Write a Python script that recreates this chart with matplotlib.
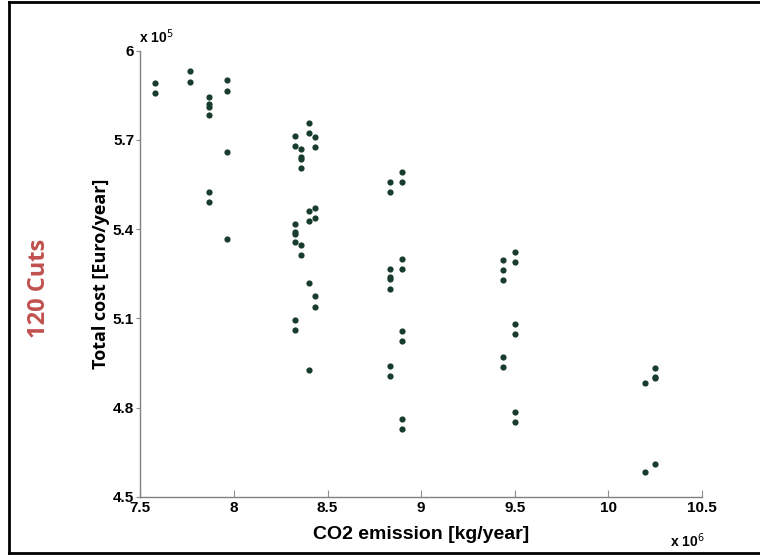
import matplotlib.pyplot as plt
from matplotlib.lines import Line2D
from matplotlib.ticker import FuncFormatter

# CO2 emission (x 10^6 kg/year) and total cost (x 10^5 Euro/year) per solution
co2 = ([7.578] * 2 + [7.765] * 2 + [7.868] * 6 + [7.961] * 4 + [8.324] * 8 + [8.356] * 6
       + [8.401] * 6 + [8.433] * 6 + [8.833] * 8 + [8.897] * 8 + [9.439] * 5 + [9.499] * 6
       + [10.194] * 2 + [10.251] * 4)
cost = [5.890, 5.856,
        5.930, 5.895,
        5.845, 5.820, 5.811, 5.784, 5.525, 5.490,
        5.900, 5.865, 5.659, 5.366,
        5.713, 5.679, 5.416, 5.390, 5.382, 5.356, 5.095, 5.061,
        5.670, 5.643, 5.635, 5.605, 5.346, 5.312,
        5.757, 5.724, 5.460, 5.426, 5.220, 4.927,
        5.710, 5.677, 5.470, 5.436, 5.176, 5.138,
        5.558, 5.525, 5.265, 5.240, 5.231, 5.200, 4.940, 4.907,
        5.592, 5.558, 5.299, 5.265, 5.059, 5.025, 4.761, 4.728,
        5.295, 5.263, 5.230, 4.970, 4.937,
        5.322, 5.289, 5.082, 5.049, 4.785, 4.751,
        4.883, 4.585,
        4.933, 4.904, 4.899, 4.612]

x_ticks = [7.5, 8, 8.5, 9, 9.5, 10, 10.5]
y_ticks = [4.5, 4.8, 5.1, 5.4, 5.7, 6]

narrow = ['Liberation Sans Narrow', 'Liberation Sans', 'DejaVu Sans']
plt.rcParams['font.family'] = narrow

fig = plt.figure(figsize=(7.6, 5.6), dpi=100)
ax = fig.add_axes([0.1847, 0.1125, 0.7390, 0.7973])

ax.scatter(co2, cost, s=20, color='#183d2c', linewidths=0, zorder=3)

ax.set_xlim(7.5, 10.5)
ax.set_ylim(4.5, 6)
ax.set_xticks(x_ticks)
ax.set_yticks(y_ticks)
fmt = FuncFormatter(lambda v, p: '%g' % v)
ax.xaxis.set_major_formatter(fmt)
ax.yaxis.set_major_formatter(fmt)

for s in ['top', 'right']:
    ax.spines[s].set_visible(False)
for s in ['left', 'bottom']:
    ax.spines[s].set_color('#808080')
    ax.spines[s].set_linewidth(1.0)

ax.tick_params(axis='x', direction='in', length=5, color='#909090', pad=3,
               labelsize=11)
ax.tick_params(axis='y', direction='out', length=3, color='#909090', pad=1.5,
               labelsize=11)
for lab in ax.get_xticklabels() + ax.get_yticklabels():
    lab.set_fontweight('bold')

ax.set_xlabel('CO2 emission [kg/year]', fontsize=14, fontweight='bold', labelpad=8)
ax.set_ylabel('Total cost [Euro/year]', fontsize=13, fontweight='bold',
              family=['Open Sans', 'DejaVu Sans'], labelpad=2)

# axis multipliers, MATLAB style
fig.text(0.183, 0.917, 'x 10$^5$', fontsize=10, fontweight='bold', va='bottom')
fig.text(0.882, 0.017, 'x 10$^6$', fontsize=10, fontweight='bold', va='bottom')

fig.text(0.051, 0.485, '120 Cuts', rotation=90, fontsize=17, fontweight='bold',
         color='#c0504d', ha='center', va='center', family=['Open Sans', 'DejaVu Sans'])

# frame around the slide
frame = dict(color='black', linewidth=2, transform=fig.transFigure)
fig.add_artist(Line2D([0.012, 0.012], [0.013, 0.996], **frame))
fig.add_artist(Line2D([0.012, 1.0], [0.996, 0.996], **frame))
fig.add_artist(Line2D([0.012, 1.0], [0.013, 0.013], **frame))

fig.savefig('out.png', dpi=100)
